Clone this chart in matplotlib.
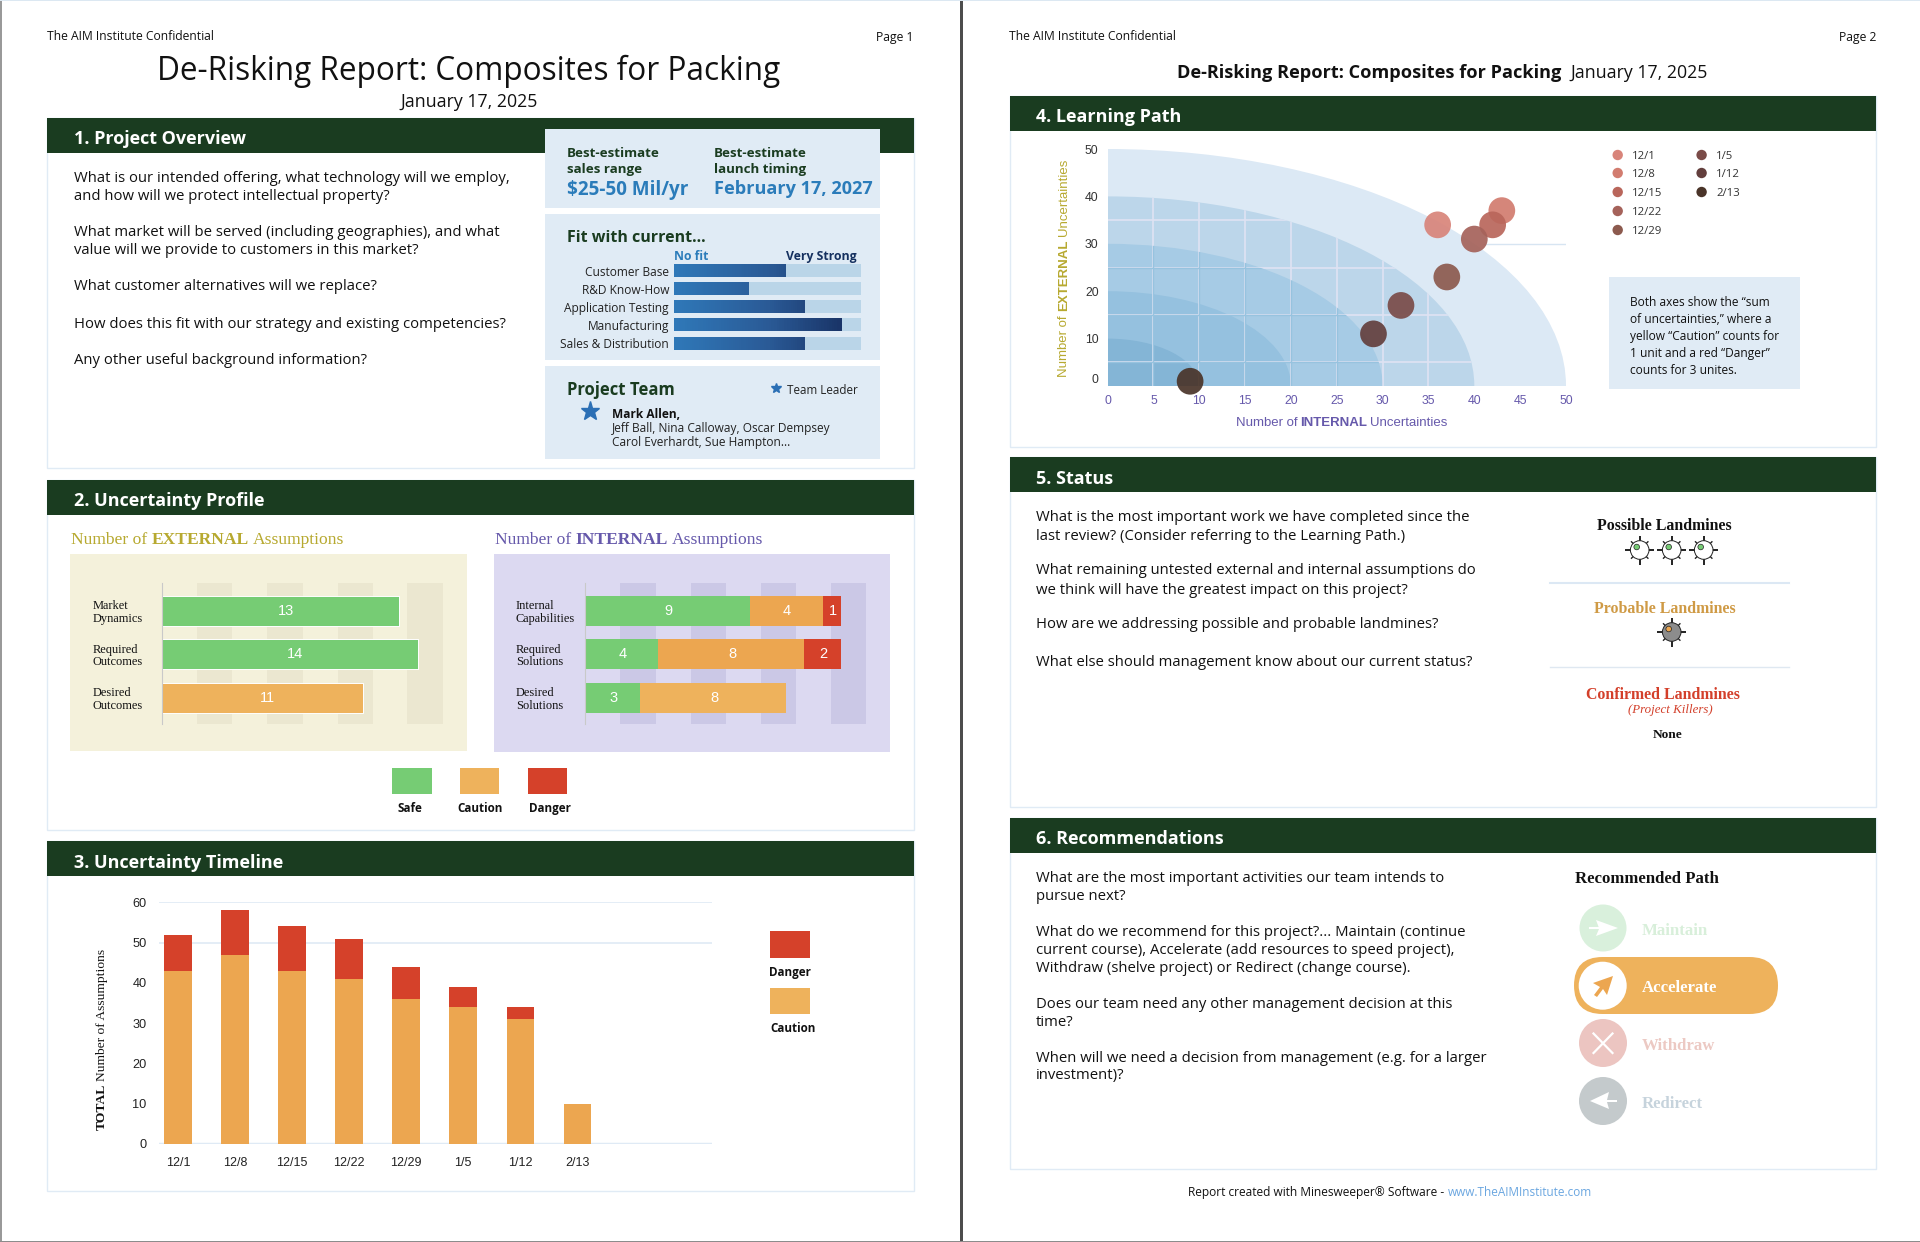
import matplotlib
matplotlib.use("Agg")
import matplotlib.pyplot as plt
import matplotlib.patches as mpatches
from matplotlib.colors import LinearSegmentedColormap
import numpy as np

W, H = 1920, 1242
SANS = "Open Sans"
SERIF = "Liberation Serif"
ARIAL = "Liberation Sans"
GREEN = "#1a3c20"
BORDER = "#e0ebf5"
BOX = "#e0ebf5"
SAFE = "#76cc74"
CAUTION = "#eca650"
CAUTION_LT = "#eeb25c"
DANGER = "#d5412a"
PURPLE = "#6659ab"
OLIVE = "#b7a930"

# --- data -------------------------------------------------------------------
fit_labels = ["Customer Base", "R&D Know-How", "Application Testing", "Manufacturing", "Sales & Distribution"]
fit_values = [60, 40, 70, 90, 70]

ext_labels = ["Market\nDynamics", "Required\nOutcomes", "Desired\nOutcomes"]
ext_safe = [13, 14, 0]
ext_caution = [0, 0, 11]
ext_danger = [0, 0, 0]

int_labels = ["Internal\nCapabilities", "Required\nSolutions", "Desired\nSolutions"]
int_safe = [9, 4, 3]
int_caution = [4, 8, 8]
int_danger = [1, 2, 0]

timeline_dates = ["12/1", "12/8", "12/15", "12/22", "12/29", "1/5", "1/12", "2/13"]
timeline_caution = [43, 47, 43, 41, 36, 34, 31, 10]
timeline_danger = [9, 11, 11, 10, 8, 5, 3, 0]

path_dates = ["12/1", "12/8", "12/15", "12/22", "12/29", "1/5", "1/12", "2/13"]
path_internal = [36, 43, 42, 40, 37, 32, 29, 9]
path_external = [34, 37, 34, 31, 23, 17, 11, 1]
path_colors = ["#d8847a", "#d27c6f", "#b9665b", "#a5625a", "#8c5a4e", "#7a4b48", "#633f3d", "#4a3429"]

# --- page -------------------------------------------------------------------
fig = plt.figure(figsize=(W / 100, H / 100), dpi=100, facecolor="white")
page = fig.add_axes([0, 0, 1, 1])
page.set_xlim(0, W)
page.set_ylim(H, 0)
page.axis("off")


def px_axes(x0, y0, x1, y1):
    ax = fig.add_axes([x0 / W, 1 - y1 / H, (x1 - x0) / W, (y1 - y0) / H])
    ax.patch.set_alpha(0)
    return ax


def txt(x, y, s, size=10.7, color="#111111", weight="normal", ha="left", family=SANS, **kw):
    return page.text(x, y, s, fontsize=size, color=color, fontweight=weight, ha=ha,
                     va="center_baseline", family=family, zorder=6, **kw)


def rect(x0, y0, x1, y1, color, zorder=1, **kw):
    page.add_patch(mpatches.Rectangle((x0, y0), x1 - x0, y1 - y0, facecolor=color,
                                      edgecolor=kw.pop("edgecolor", "none"), zorder=zorder, **kw))


def runs(x, y, parts, size, color, family, gap, vertical=False):
    # parts = [(text, weight), ...] laid end to end, going upward if vertical
    rend = fig.canvas.get_renderer()
    for s, weight in parts:
        t = page.text(x, y, s, fontsize=size, color=color, fontweight=weight, family=family,
                      ha="center" if vertical else "left",
                      va="bottom" if vertical else "center_baseline",
                      rotation=90 if vertical else 0, zorder=6)
        bb = t.get_window_extent(rend)
        if vertical:
            y -= bb.height + gap
        else:
            x += bb.width + gap


def section(x0, x1, top, band_bottom, bottom, title):
    rect(x0, top, x1, bottom, "white", zorder=1, edgecolor=BORDER, linewidth=1)
    rect(x0, top, x1, band_bottom, GREEN, zorder=2)
    txt(x0 + 26.5, (top + band_bottom) / 2 + 2, title, size=13, color="white", weight="bold")


def paragraph(x, ys, lines, size=10.7):
    for y, line in zip(ys, lines):
        txt(x, y, line, size=size)


# page edges
rect(0, 0, 1.5, H, "#999999", zorder=0)
rect(960, 0, 962.5, H, "#4d4d4d", zorder=0)
rect(0, 0, W, 1, "#dce8f2", zorder=0)
rect(0, H - 1.5, W, H, "#8c8c8c", zorder=0)

# --- page 1 header ----------------------------------------------------------
txt(47, 35.5, "The AIM Institute Confidential", size=8.7)
txt(914, 35.5, "Page 1", size=8.7, ha="right")
txt(469, 67, "De-Risking Report: Composites for Packing", size=22.7, ha="center")
txt(469, 100, "January 17, 2025", size=12.8, ha="center")

# --- 1. Project Overview ----------------------------------------------------
section(47, 914, 118, 153, 468, "1. Project Overview")
paragraph(73.5, [177, 195, 231, 249, 285, 322, 358], [
    "What is our intended offering, what technology will we employ,",
    "and how will we protect intellectual property?",
    "What market will be served (including geographies), and what",
    "value will we provide to customers in this market?",
    "What customer alternatives will we replace?",
    "How does this fit with our strategy and existing competencies?",
    "Any other useful background information?",
])

rect(545, 129, 880, 208, BOX, zorder=3)
rect(545, 214, 880, 360, BOX, zorder=3)
rect(545, 366, 880, 459, BOX, zorder=3)

for x, l1, l2, big, big_size in [(567, "Best-estimate", "sales range", "$25-50 Mil/yr", 13.6),
                                 (714, "Best-estimate", "launch timing", "February 17, 2027", 13.1)]:
    txt(x, 152, l1, size=9.6, color=GREEN, weight="bold")
    txt(x, 167.5, l2, size=9.6, color=GREEN, weight="bold")
    txt(x, 187, big, size=big_size, color="#2b7cba", weight="bold")

txt(567, 236, "Fit with current...", size=11.5, color=GREEN, weight="bold")
txt(674, 255, "No fit", size=8.8, color="#2b7cba", weight="bold")
txt(857, 255, "Very Strong", size=8.8, color="#15305f", weight="bold", ha="right")

fit_ax = px_axes(674, 264, 861, 350)
fit_ax.set_zorder(5)
fit_cmap = LinearSegmentedColormap.from_list("fit", ["#2f78b8", "#2a5a96", "#14295a"])
fit_rows = np.arange(len(fit_labels))
fit_ax.barh(fit_rows, [100] * len(fit_rows), height=0.72, color="#bad5e8")
for row, val in zip(fit_rows, fit_values):
    # gradient runs across the whole 0-100 scale, each bar shows its own part of it
    edges = np.linspace(0, val, 65)
    fit_ax.pcolormesh(edges, [row - 0.36, row + 0.36], edges[:-1][None, :], cmap=fit_cmap,
                      vmin=0, vmax=100, shading="flat", rasterized=False, linewidth=0)
fit_ax.set_xlim(0, 100)
fit_ax.set_ylim(4.38, -0.36)
fit_ax.set_xticks([])
fit_ax.set_yticks(fit_rows, fit_labels, fontsize=8.6, family=SANS, color="#222222", va="center_baseline")
fit_ax.tick_params(axis="y", length=0, pad=3.6)
for sp in fit_ax.spines.values():
    sp.set_visible(False)

txt(567, 388, "Project Team", size=12, color=GREEN, weight="bold")
page.plot([776], [388], marker="*", ms=7.5, color="#2b6fb5", ls="none", zorder=6)
txt(787, 389.5, "Team Leader", size=8.4, color="#222222")
page.plot([590], [411], marker="*", ms=14, color="#2b6fb5", ls="none", zorder=6)
txt(612, 413, "Mark Allen,", size=8.6, weight="bold")
txt(612, 427, "Jeff Ball, Nina Calloway, Oscar Dempsey", size=8.6, color="#222222")
txt(612, 441, "Carol Everhardt, Sue Hampton...", size=8.6, color="#222222")

# --- 2. Uncertainty Profile -------------------------------------------------
section(47, 914, 480, 515, 830, "2. Uncertainty Profile")
runs(71, 538, [("Number of", "normal"), ("EXTERNAL", "bold"), ("Assumptions", "normal")],
     12.6, OLIVE, SERIF, 4)
runs(495, 538, [("Number of", "normal"), ("INTERNAL", "bold"), ("Assumptions", "normal")],
     12.6, PURPLE, SERIF, 4)
rect(70, 554, 467, 751, "#f4f1db", zorder=2)
rect(494, 554, 890, 752, "#dcd9f1", zorder=2)


def profile(x0, labels, safe, caution, danger, stripe, edge, label_shift):
    ax = px_axes(x0, 583, x0 + 292, 724)
    ax.set_zorder(4)
    rows = np.arange(len(labels))
    for lo in (1.92, 5.77, 9.62, 13.45):
        ax.axvspan(lo, lo + 1.93, color=stripe, lw=0, zorder=0)
    left = np.zeros(len(rows))
    for vals, colors in ((safe, [SAFE] * 3), (caution, [CAUTION, CAUTION, CAUTION_LT]), (danger, [DANGER] * 3)):
        ax.barh(rows, vals, left=left, height=0.69, color=colors, zorder=2, edgecolor=edge, linewidth=0.7)
        for r, v, l in zip(rows, vals, left):
            if v:
                ax.text(l + v / 2 + label_shift, r, str(v), color="white", fontsize=10.5, family=ARIAL,
                        ha="center", va="center", zorder=3)
        left = left + np.array(vals)
    ax.set_xlim(0, 16)
    ax.set_ylim(2.6, -0.644)
    ax.set_xticks([])
    ax.set_yticks(rows, labels, fontsize=8.9, family=SERIF, color="#111111", ha="left", linespacing=1.05)
    ax.tick_params(axis="y", length=0, pad=50)
    for name, sp in ax.spines.items():
        sp.set_visible(name == "left")
        sp.set_color("#c9c9c9")
        sp.set_linewidth(0.8)


profile(162, ext_labels, ext_safe, ext_caution, ext_danger, "#ebe7d0", "white", 0.3)
profile(585.4, int_labels, int_safe, int_caution, int_danger, "#cbc8e6", "none", 0.05)

for x0, x1, color, lab, cx in [(392, 432, SAFE, "Safe", 410), (460, 499, CAUTION_LT, "Caution", 480),
                               (528, 567, DANGER, "Danger", 550)]:
    rect(x0, 768, x1, 794, color, zorder=3)
    txt(cx, 807, lab, size=8.4, weight="bold", ha="center")

# --- 3. Uncertainty Timeline ------------------------------------------------
section(47, 914, 841, 876, 1191, "3. Uncertainty Timeline")
tl = px_axes(159, 902.3, 711.6, 1144)
tl.set_zorder(4)
xs = np.arange(len(timeline_dates))
tl.axhline(60, color="#dfeaf5", lw=1.2, zorder=0)
tl.axhline(50, color="#dfeaf5", lw=1.2, zorder=0)
tl.axhline(0, color="#dfeaf5", lw=2.5, zorder=0)
tl.bar(xs, timeline_caution, width=0.475, color=CAUTION, zorder=2)
tl.bar(xs, timeline_danger, width=0.475, bottom=timeline_caution, color=DANGER, zorder=2)
tl.set_xlim(-0.333, 9.36)
tl.set_ylim(0, 60)
tl.set_xticks(xs, timeline_dates)
tl.set_yticks(range(0, 61, 10))
tl.tick_params(axis="both", length=0)
tl.tick_params(axis="x", pad=9, labelsize=9)
tl.tick_params(axis="y", pad=9, labelsize=9.2)
for lbl in tl.get_yticklabels() + tl.get_xticklabels():
    lbl.set_family(ARIAL)
    lbl.set_color("#222222")
for sp in tl.spines.values():
    sp.set_visible(False)
runs(102, 1130, [("TOTAL", "bold"), ("Number of Assumptions", "normal")], 9.7, "#111111", SERIF, 3, vertical=True)

rect(770, 931, 810, 958, DANGER, zorder=3)
txt(790, 971, "Danger", size=8.4, weight="bold", ha="center")
rect(770, 988, 810, 1014, CAUTION_LT, zorder=3)
txt(793, 1027, "Caution", size=8.4, weight="bold", ha="center")

# --- page 2 header ----------------------------------------------------------
txt(1009, 35.5, "The AIM Institute Confidential", size=8.7)
txt(1876, 35.5, "Page 2", size=8.7, ha="right")
txt(1177, 71, "De-Risking Report: Composites for Packing", size=13.1, weight="bold")
txt(1570, 71, "January 17, 2025", size=12.8)

# --- 4. Learning Path -------------------------------------------------------
section(1010, 1876, 96, 131, 447, "4. Learning Path")
lp = px_axes(1107.6, 149, 1566, 386)
lp.set_zorder(4)
for radius, color in zip([50, 40, 30, 20, 10], ["#dce9f5", "#bcd6ea", "#a6cbe5", "#95c1df", "#84b5d6"]):
    lp.add_patch(mpatches.Wedge((0, 0), radius, 0, 90, facecolor=color, edgecolor="none", zorder=1))
for radius, color, width in [(40, "#dfe3f3", 1.2), (30, "#97c3df", 1.0)]:
    clip = mpatches.Wedge((0, 0), radius, 0, 90, transform=lp.transData)
    for gx in range(5, 40, 5):
        line = lp.axvline(gx, color=color, lw=width, zorder=2)
        line.set_clip_path(clip)
    for gy in range(5, 40, 10):
        line = lp.axhline(gy, color=color, lw=width, zorder=2)
        line.set_clip_path(clip)
lp.hlines(30, 41, 50, color="#d7e5f2", lw=1, zorder=0)
lp.scatter(path_internal, path_external, s=370, c=path_colors, alpha=0.92, linewidths=0,
           zorder=5, clip_on=False)
lp.set_xlim(0, 50)
lp.set_ylim(0, 50)
lp.set_xticks(range(0, 51, 5))
lp.set_yticks(range(0, 51, 10))
lp.tick_params(axis="both", length=0)
lp.tick_params(axis="x", pad=6.5, labelsize=8.8, labelcolor=PURPLE)
lp.tick_params(axis="y", pad=6.5, labelsize=8.8, labelcolor="#333333")
for lbl in lp.get_xticklabels() + lp.get_yticklabels():
    lbl.set_family(ARIAL)
lp.get_yticklabels()[0].set_verticalalignment("bottom")
for sp in lp.spines.values():
    sp.set_visible(False)
runs(1064, 377, [("Number of", "normal"), ("EXTERNAL", "bold"), ("Uncertainties", "normal")],
     9.5, OLIVE, ARIAL, 4, vertical=True)
runs(1235.6, 422, [("Number of", "normal"), ("INTERNAL", "bold"), ("Uncertainties", "normal")],
     9.5, PURPLE, ARIAL, 3)

legend_pos = [(1617.7, 155), (1617.7, 173), (1617.7, 192), (1617.7, 211), (1617.7, 230),
              (1701.6, 155), (1701.6, 173), (1701.6, 192)]
for (lx, ly), date, color in zip(legend_pos, path_dates, path_colors):
    page.add_patch(mpatches.Circle((lx, ly), 5.2, facecolor=color, edgecolor="none", zorder=5))
    txt(lx + 14.5, ly, date, size=8.2, color="#333333")

rect(1609, 277, 1800, 389, BOX, zorder=3)
paragraph(1630.5, [301, 318, 335, 352, 369], [
    "Both axes show the \u201csum",
    "of uncertainties,\u201d where a",
    "yellow \u201cCaution\u201d counts for",
    "1 unit and a red \u201cDanger\u201d",
    "counts for 3 unites.",
], size=8.6)

# --- 5. Status --------------------------------------------------------------
section(1010, 1876, 457, 492, 807, "5. Status")
paragraph(1035.5, [515.5, 534, 569, 588, 623, 660], [
    "What is the most important work we have completed since the",
    "last review? (Consider referring to the Learning Path.)",
    "What remaining untested external and internal assumptions do",
    "we think will have the greatest impact on this project?",
    "How are we addressing possible and probable landmines?",
    "What else should management know about our current status?",
])


def mine(cx, cy, fill, dot):
    for k in range(8):
        ang = k * np.pi / 4
        r, lw = (14.5, 1.4) if k % 2 == 0 else (12.3, 1.0)
        page.plot([cx + 8 * np.cos(ang), cx + r * np.cos(ang)], [cy + 8 * np.sin(ang), cy + r * np.sin(ang)],
                  color="#222222", lw=lw, solid_capstyle="butt", zorder=5)
    page.add_patch(mpatches.Circle((cx, cy), 9.3, facecolor=fill, edgecolor="#222222", lw=0.7, zorder=6))
    page.add_patch(mpatches.Circle((cx - 3, cy - 3), 2.8, facecolor=dot, edgecolor="#222222", lw=0.5, zorder=7))


txt(1664.7, 524, "Possible Landmines", size=11.4, weight="bold", ha="center", family=SERIF)
for mx in (1639.7, 1671.7, 1703.7):
    mine(mx, 550, "white", "#76cc74")
page.plot([1550, 1789], [583, 583], color="#dce8f4", lw=1.5, zorder=4)
txt(1665, 607, "Probable Landmines", size=11.4, weight="bold", ha="center", family=SERIF, color="#cf9a45")
mine(1671.7, 632, "#8c8c8c", "#eca650")
page.plot([1550, 1789], [667, 667], color="#dfe8f1", lw=1, zorder=4)
txt(1662.7, 693, "Confirmed Landmines", size=11.4, weight="bold", ha="center", family=SERIF, color="#d33f2a")
txt(1670, 709, "(Project Killers)", size=9.3, ha="center", family=SERIF, color="#d33f2a", style="italic")
txt(1667.7, 733.5, "None", size=9.6, weight="bold", ha="center", family=SERIF)

# --- 6. Recommendations -----------------------------------------------------
section(1010, 1876, 818, 853, 1169, "6. Recommendations")
paragraph(1035.5, [877, 894, 931, 948, 966, 1003, 1020, 1057, 1074], [
    "What are the most important activities our team intends to",
    "pursue next?",
    "What do we recommend for this project?... Maintain (continue",
    "current course), Accelerate (add resources to speed project),",
    "Withdraw (shelve project) or Redirect (change course).",
    "Does our team need any other management decision at this",
    "time?",
    "When will we need a decision from management (e.g. for a larger",
    "investment)?",
])
txt(1575, 877, "Recommended Path", size=12.1, weight="bold", family=SERIF)

page.add_patch(mpatches.Circle((1603, 928), 23.5, facecolor="#d9f0dc", edgecolor="none", zorder=4))
page.add_patch(mpatches.FancyBboxPatch((1574 + 28.5, 957 + 28.5), 204 - 57, 0, boxstyle="round,pad=28.5",
                                       facecolor=CAUTION_LT, edgecolor="none", zorder=4))
page.add_patch(mpatches.Circle((1602.7, 985.7), 24, facecolor="white", edgecolor="none", zorder=5))
page.add_patch(mpatches.Circle((1603, 1043), 24, facecolor="#ecc5c1", edgecolor="none", zorder=4))
page.add_patch(mpatches.Circle((1603, 1101), 24, facecolor="#c4cacc", edgecolor="none", zorder=4))

# icons
page.add_patch(mpatches.Polygon([(1590, 928), (1599, 928), (1596, 920), (1618, 928), (1596, 936), (1599, 929)],
                                facecolor="white", edgecolor="none", zorder=6))
page.plot([1590, 1600], [928, 928], color="white", lw=1.5, zorder=6)
page.add_patch(mpatches.Polygon([(1613, 976), (1593, 983), (1600, 987), (1594, 995), (1597, 997), (1603, 989), (1607, 995)],
                                facecolor="#eca650", edgecolor="none", zorder=6))
page.plot([1593.5, 1612.5], [1033.5, 1053], color="white", lw=1.6, zorder=6)
page.plot([1593.5, 1612.5], [1053, 1033.5], color="white", lw=1.6, zorder=6)
page.add_patch(mpatches.Polygon([(1617, 1100), (1607, 1100), (1609, 1092), (1590, 1101), (1609, 1109), (1607, 1102), (1617, 1102)],
                                facecolor="white", edgecolor="none", zorder=6))

txt(1642, 929, "Maintain", size=12.1, weight="bold", family=SERIF, color="#d8efda")
txt(1642, 986, "Accelerate", size=12.1, weight="bold", family=SERIF, color="white")
txt(1642, 1044, "Withdraw", size=12.1, weight="bold", family=SERIF, color="#ecc9c3")
txt(1642, 1102, "Redirect", size=12.1, weight="bold", family=SERIF, color="#c6d3dc")

# footer
txt(1188, 1191, "Report created with Minesweeper\u00ae Software -", size=8.6)
txt(1448, 1191, "www.TheAIMInstitute.com", size=8.5, color="#6aa6e0")

fig.savefig("out.png", dpi=100)
plt.close(fig)
